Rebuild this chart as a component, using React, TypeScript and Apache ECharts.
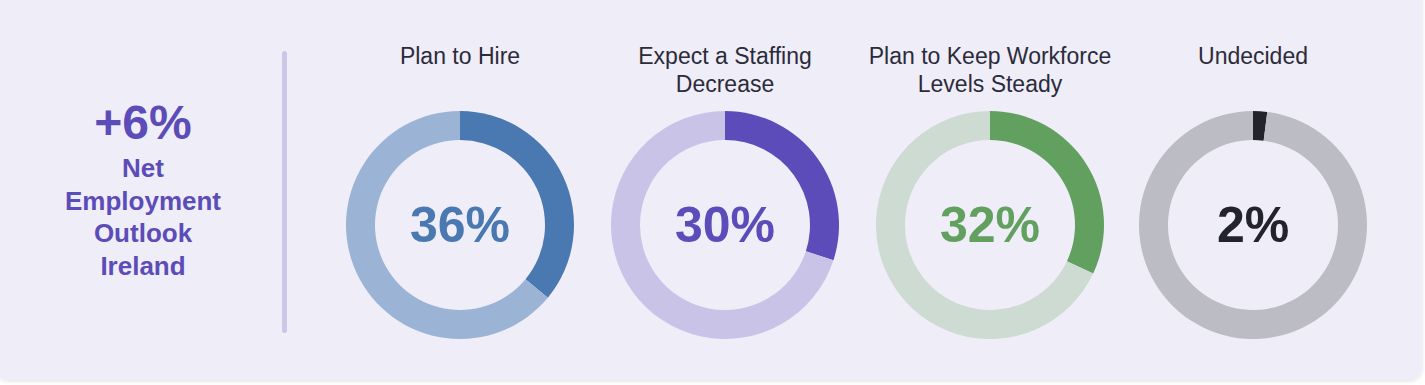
import React, { useEffect, useRef } from "react";
import * as echarts from "echarts";

const titles: string[][] = [
  ["Plan to Hire"],
  ["Expect a Staffing", "Decrease"],
  ["Plan to Keep Workforce", "Levels Steady"],
  ["Undecided"],
];
const values: number[] = [36, 30, 32, 2];
const darkColors = ["#4a78b0", "#5c4cba", "#62a060", "#23232e"];
const lightColors = ["#9bb3d5", "#c9c3e8", "#cddbd3", "#bcbcc4"];
const centersX = [460, 725, 990, 1253];
const netOutlook = "+6%";
const netLabelLines = ["Net", "Employment", "Outlook", "Ireland"];

const FONT = "'Liberation Sans', Arial, Helvetica, sans-serif";

export default function App() {
  const ref = useRef<HTMLDivElement>(null);
  useEffect(() => {
    document.body.style.margin = "0";
    const chart = echarts.init(ref.current!, null, { renderer: "svg" });
    const series: any[] = values.map((v, i) => ({
      type: "pie",
      center: [centersX[i], 225],
      radius: [85, 114],
      startAngle: 90,
      clockwise: true,
      silent: true,
      avoidLabelOverlap: false,
      labelLine: { show: false },
      label: { show: false },
      itemStyle: { borderWidth: 0 },
      emphasis: { disabled: true },
      data: [
        {
          value: v,
          name: titles[i].join(" "),
          itemStyle: { color: darkColors[i] },
          label: {
            show: true,
            position: "center",
            formatter: v + "%",
            fontSize: 50,
            fontWeight: "bold",
            fontFamily: FONT,
            color: darkColors[i],
          },
        },
        { value: 100 - v, name: "rest", itemStyle: { color: lightColors[i] } },
      ],
    }));

    const graphics: any[] = [
      {
        type: "rect",
        z: -10,
        shape: { x: -4, y: -20, width: 1426, height: 400, r: 12 },
        style: {
          fill: "#efedf8",
          shadowBlur: 4,
          shadowColor: "rgba(0,0,0,0.12)",
          shadowOffsetY: 1,
        },
      },
      {
        type: "rect",
        shape: { x: 282, y: 51, width: 5, height: 282, r: 2.5 },
        style: { fill: "#cbc7e8" },
      },
      {
        type: "text",
        x: 143,
        y: 122,
        style: {
          text: netOutlook,
          fontSize: 48,
          fontWeight: "bold",
          fontFamily: FONT,
          fill: "#5b4cb8",
          align: "center",
          verticalAlign: "middle",
        },
      },
      ...netLabelLines.map((t, k) => ({
        type: "text",
        x: 143,
        y: 168 + k * 32.5,
        style: {
          text: t,
          fontSize: 26,
          fontWeight: "bold",
          fontFamily: FONT,
          fill: "#5b4cb8",
          align: "center",
          verticalAlign: "middle",
        },
      })),
    ];
    titles.forEach((lines, i) => {
      lines.forEach((t, k) => {
        graphics.push({
          type: "text",
          x: centersX[i],
          y: 56 + k * 28,
          style: {
            text: t,
            fontSize: 23,
            fontFamily: FONT,
            fill: "#2b2b3a",
            align: "center",
            verticalAlign: "middle",
          },
        });
      });
    });

    chart.setOption({
      animation: false,
      backgroundColor: "#ffffff",
      graphic: graphics,
      series,
    });
    return () => chart.dispose();
  }, []);
  return <div ref={ref} style={{ width: 1425, height: 385 }} />;
}
